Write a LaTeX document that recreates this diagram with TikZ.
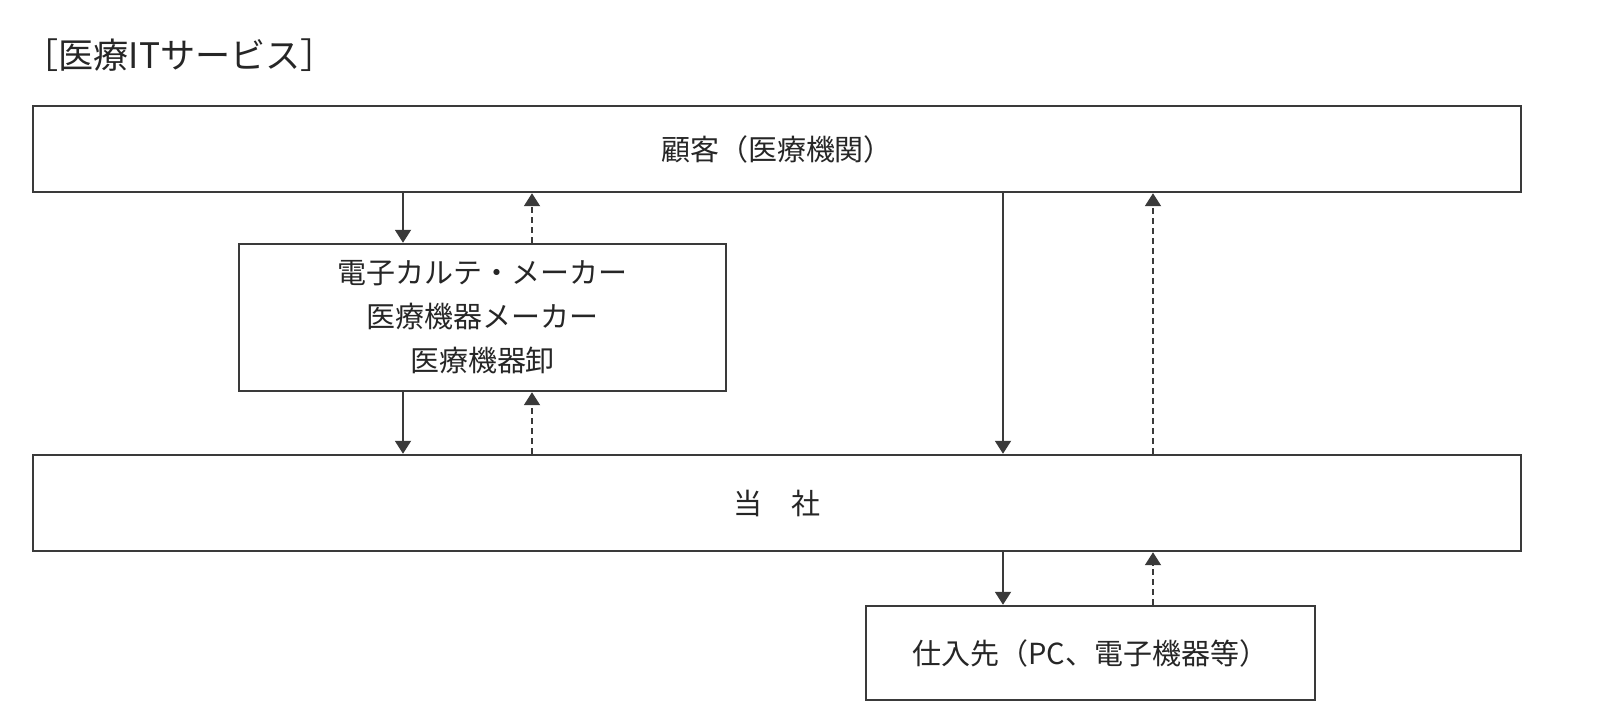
\documentclass[tikz,border=0pt]{standalone}
\usepackage{fontspec}
\setmainfont{Noto Sans CJK JP}
\usepackage{tikz}
\usetikzlibrary{positioning,arrows.meta,calc}
\definecolor{lineGray}{HTML}{3A3A3A}

\begin{document}
\begin{tikzpicture}[
 box/.style={rectangle,draw=lineGray,line width=1.4pt,inner sep=0pt,align=center,
  text=black!85,font=\fontsize{16.5}{25}\selectfont},
 flow/.style={-{Triangle[length=2.6mm,width=3.2mm]},draw=lineGray,line width=1.1pt},
 reply/.style={flow,dash pattern=on 1.2mm off 0.8mm},
 heading/.style={anchor=west,inner sep=0pt,text=black!85,font=\fontsize{20}{25}\selectfont}]

% Page frame
\useasboundingbox (0,0) rectangle (32,-14.52);

% Title
\node[heading] (title) at (0.46,-1.1) {［医療ITサービス］};

% Boxes
\node[box,minimum width=29.76cm,minimum height=1.72cm] (cust) at (15.54,-2.98) {顧客（医療機関）};
\node[box,minimum width=9.74cm,minimum height=2.94cm] (maker) at (9.65,-6.35)
 {電子カルテ・メーカー\\医療機器メーカー\\医療機器卸};
\node[box,minimum width=29.76cm,minimum height=1.92cm] (self) at (15.54,-10.06) {当　社};
\node[box,minimum width=8.98cm,minimum height=1.88cm] (supp) at (21.81,-13.06) {仕入先（PC、電子機器等）};

% Arrow columns
\coordinate (colA) at (8.06,0);
\coordinate (colB) at (10.64,0);
\coordinate (colC) at (20.06,0);
\coordinate (colD) at (23.06,0);

% Left route via makers
\draw[flow] (cust.south -| colA) -- (maker.north -| colA);
\draw[reply] (maker.north -| colB) -- (cust.south -| colB);
\draw[flow] (maker.south -| colA) -- (self.north -| colA);
\draw[reply] (self.north -| colB) -- (maker.south -| colB);

% Direct route
\draw[flow] (cust.south -| colC) -- (self.north -| colC);
\draw[reply] (self.north -| colD) -- (cust.south -| colD);

% Suppliers
\draw[flow] (self.south -| colC) -- (supp.north -| colC);
\draw[reply] (supp.north -| colD) -- (self.south -| colD);
\end{tikzpicture}
\end{document}
